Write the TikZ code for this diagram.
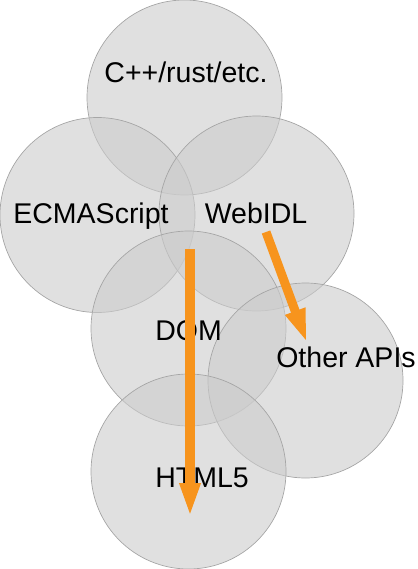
\documentclass[tikz,border=0pt]{standalone}
\usepackage{fontspec}
\setmainfont{Liberation Sans}
\usepackage{tikz}
\usetikzlibrary{arrows.meta,positioning}
\definecolor{bubblefill}{HTML}{CCCCCC}
\definecolor{bubbleline}{HTML}{A6A6A6}
\definecolor{apiorange}{HTML}{F7941D}
\tikzstyle{bubble} = [circle, draw=bubbleline, line width=0.7pt, fill=bubblefill, fill opacity=0.6, minimum size=195pt, inner sep=0pt]
\tikzstyle{tag} = [anchor=base, inner sep=0pt, font=\fontsize{28.5}{34}\selectfont]
\tikzstyle{flow} = [draw=apiorange, -{Triangle[length=34pt,width=19pt]}, fill=apiorange]

\begin{document}
\begin{tikzpicture}[x=1pt,y=-1pt]
      \useasboundingbox (0,0) rectangle (417,569);
      % circles
      \node[bubble] (Cpp) at (184.5,97.5) {};
      \node[bubble] (Ecma) at (97.5,215) {};
      \node[bubble] (WebIDL) at (256.5,213.5) {};
      \node[bubble] (Dom) at (188.5,328.5) {};
      \node[bubble] (OtherAPIs) at (305.5,380.5) {};
      \node[bubble] (Html) at (188.5,471.5) {};
      %
      \node[tag] (CppText) at (186,83) {C++/rust/etc.};
      \node[tag] (EcmaText) at (91,223) {ECMAScript};
      \node[tag] (WebIDLText) at (256,223) {WebIDL};
      \node[tag] (DomText) at (188.5,340) {DOM};
      \node[tag] (OtherAPIsText) at (346,367) {Other APIs};
      \node[tag] (HtmlText) at (202,487) {HTML5};
      %
      \coordinate (DomStart) at (190,249);
      \coordinate (HtmlEnd) at (190,517);
      \coordinate (WebIDLStart) at (266,232);
      \coordinate (OtherEnd) at (307,343);
      \draw[flow, line width=10pt] (DomStart) -- (HtmlEnd);
      \draw[flow, line width=9pt] (WebIDLStart) -- (OtherEnd);
    \end{tikzpicture}
\end{document}
